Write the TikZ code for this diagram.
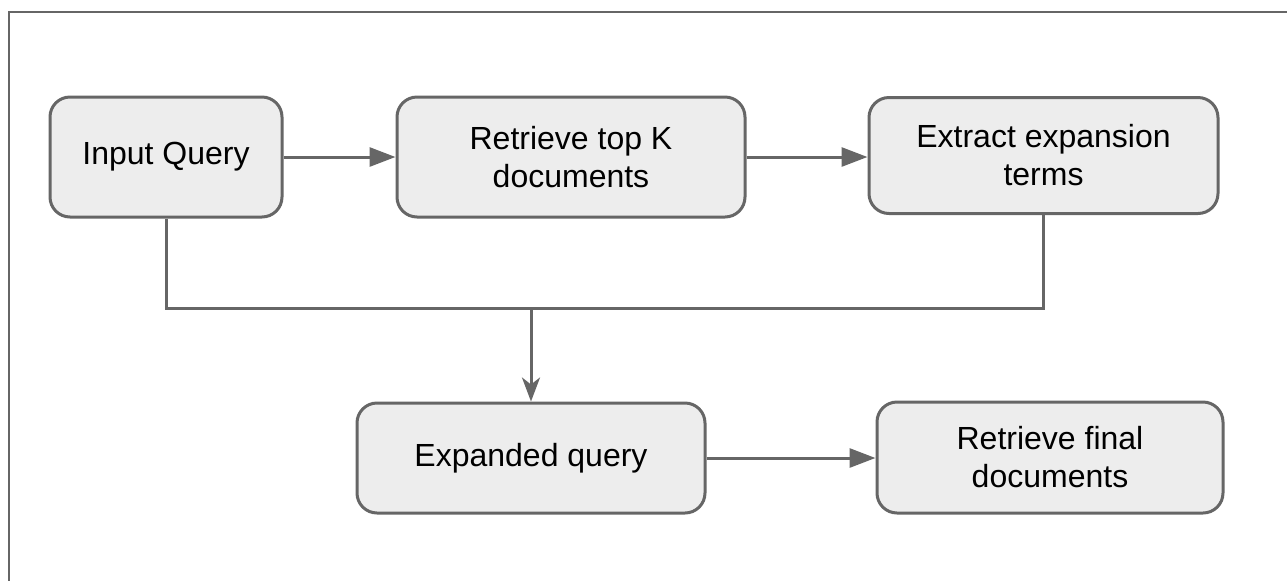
\documentclass[tikz,border=0pt]{standalone}
\usepackage{fontspec}
\setmainfont{Liberation Sans}
\usetikzlibrary{arrows.meta}
\begin{document}
\begin{tikzpicture}[x=0.5pt,y=-0.5pt,
  box/.style={draw=black!60, fill=black!7, line width=1.5pt, rounded corners=10pt,
    align=center, font=\fontsize{16pt}{19pt}\selectfont, inner sep=0pt},
  conn/.style={draw=black!60, line width=1.5pt},
  harr/.style={conn, -{Triangle[length=13pt,width=9.5pt]}},
  varr/.style={conn, -{Stealth[length=12pt,width=9pt,inset=3.5pt]}}]
\useasboundingbox (0,0) rectangle (1287,580);
\draw[conn, line width=1.2pt] (9,585) -- (9,12) -- (1295,12);
\node[box, minimum width=116pt, minimum height=60pt] (iq) at (166,157) {Input Query};
\node[box, minimum width=174pt, minimum height=60pt] (rk) at (571,157) {Retrieve top K\\documents};
\node[box, minimum width=174.5pt, minimum height=58pt] (et) at (1043.5,155.5) {Extract expansion\\terms};
\node[box, minimum width=174pt, minimum height=55pt] (eq) at (531,458) {Expanded query};
\node[box, minimum width=173pt, minimum height=55.5pt] (rf) at (1050,457.5) {Retrieve final\\documents};
\coordinate (m) at (531,308);
\draw[harr] (iq.east) -- (rk.west);
\draw[harr] (rk.east) -- (rk.east -| et.west);
\draw[conn] (iq.south) |- (m);
\draw[conn] (et.south) |- (m);
\draw[varr] (m) -- (eq.north);
\draw[harr] (eq.east) -- (eq.east -| rf.west);
\end{tikzpicture}
\end{document}
